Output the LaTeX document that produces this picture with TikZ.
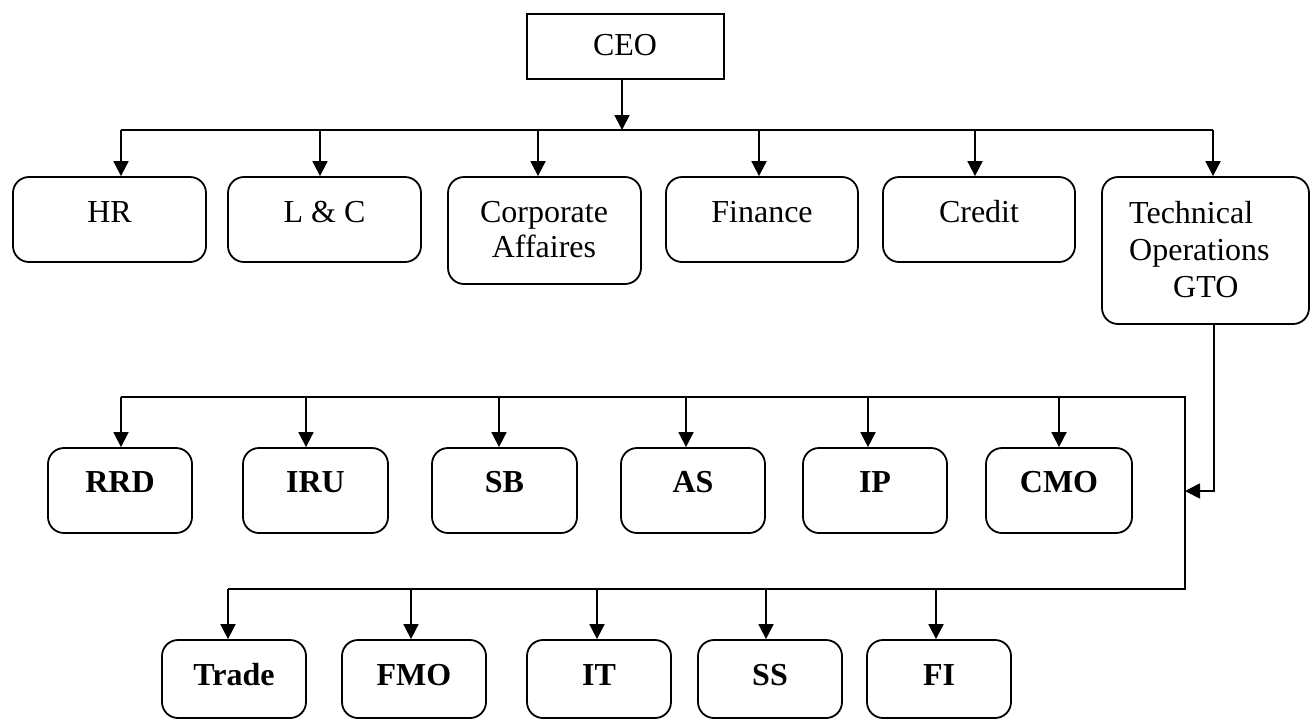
\documentclass[tikz,border=0pt]{standalone}
\usepackage{fontspec}
\setmainfont{Liberation Serif}
\usetikzlibrary{arrows.meta}
\tikzset{
  rbox/.style={draw, line width=1.8pt, rounded corners=16pt, inner sep=0pt},
  sbox/.style={draw, line width=1.8pt, inner sep=0pt},
  lbl/.style={inner sep=0pt, font=\fontsize{32}{38}\selectfont},
  blbl/.style={inner sep=0pt, font=\fontsize{32}{38}\selectfont\bfseries},
  wire/.style={line width=1.8pt},
  arr/.style={line width=1.8pt, -{Triangle[length=15pt,width=15pt]}}
}
\begin{document}
\begin{tikzpicture}[x=1pt,y=-1pt]
\useasboundingbox (0,0) rectangle (1311,721);
% CEO
\node[sbox, minimum width=197pt, minimum height=65pt] (ceo) at (625.5,46.5) {};
\node[lbl, anchor=base] (ceo-t) at (625,55) {CEO};
% Row 1
\node[rbox, minimum width=193pt, minimum height=85pt] (hr) at (109.5,219.5) {};
\node[rbox, minimum width=193pt, minimum height=85pt] (lc) at (324.5,219.5) {};
\node[rbox, minimum width=193pt, minimum height=107pt] (corp) at (544.5,230.5) {};
\node[rbox, minimum width=192pt, minimum height=85pt] (fin) at (762,219.5) {};
\node[rbox, minimum width=192pt, minimum height=85pt] (cred) at (979,219.5) {};
\node[rbox, minimum width=207pt, minimum height=147pt] (gto) at (1205.5,250.5) {};
\node[lbl, anchor=base] (hr-t) at (109.5,222) {HR};
\node[lbl, anchor=base] (lc-t) at (324.5,222) {L \& C};
\node[lbl, anchor=base] (corp-t1) at (544,222) {Corporate};
\node[lbl, anchor=base] (corp-t2) at (544,257) {Affaires};
\node[lbl, anchor=base] (fin-t) at (762,222) {Finance};
\node[lbl, anchor=base] (cred-t) at (979,222) {Credit};
\node[lbl, anchor=base west] (gto-t1) at (1129,223) {Technical};
\node[lbl, anchor=base west] (gto-t2) at (1129,260) {Operations};
\node[lbl, anchor=base west] (gto-t3) at (1173,297) {GTO};
% Row 2
\node[rbox, minimum width=144pt, minimum height=85pt] (rrd) at (120,490.5) {};
\node[rbox, minimum width=145pt, minimum height=85pt] (iru) at (315.5,490.5) {};
\node[rbox, minimum width=145pt, minimum height=85pt] (sb) at (504.5,490.5) {};
\node[rbox, minimum width=144pt, minimum height=85pt] (as) at (693,490.5) {};
\node[rbox, minimum width=144pt, minimum height=85pt] (ip) at (875,490.5) {};
\node[rbox, minimum width=146pt, minimum height=85pt] (cmo) at (1059,490.5) {};
\node[blbl, anchor=base] (rrd-t) at (120,492) {RRD};
\node[blbl, anchor=base] (iru-t) at (315.5,492) {IRU};
\node[blbl, anchor=base] (sb-t) at (504.5,492) {SB};
\node[blbl, anchor=base] (as-t) at (693,492) {AS};
\node[blbl, anchor=base] (ip-t) at (875,492) {IP};
\node[blbl, anchor=base] (cmo-t) at (1059,492) {CMO};
% Row 3
\node[rbox, minimum width=144pt, minimum height=78pt] (trade) at (234,679) {};
\node[rbox, minimum width=144pt, minimum height=78pt] (fmo) at (414,679) {};
\node[rbox, minimum width=144pt, minimum height=78pt] (it) at (599,679) {};
\node[rbox, minimum width=144pt, minimum height=78pt] (ss) at (770,679) {};
\node[rbox, minimum width=144pt, minimum height=78pt] (fi) at (939,679) {};
\node[blbl, anchor=base] (trade-t) at (234,685) {Trade};
\node[blbl, anchor=base] (fmo-t) at (414,685) {FMO};
\node[blbl, anchor=base] (it-t) at (599,685) {IT};
\node[blbl, anchor=base] (ss-t) at (770,685) {SS};
\node[blbl, anchor=base] (fi-t) at (939,685) {FI};
% bus 1
\coordinate (c0) at (622,130);
\coordinate (a1) at (121,130);
\coordinate (a2) at (320,130);
\coordinate (a3) at (538,130);
\coordinate (a4) at (759,130);
\coordinate (a5) at (975,130);
\coordinate (a6) at (1213,130);
\draw[arr] (c0 |- ceo.south) -- (c0);
\draw[wire] (a1) -- (a6);
\draw[arr] (a1) -- (a1 |- hr.north);
\draw[arr] (a2) -- (a2 |- lc.north);
\draw[arr] (a3) -- (a3 |- corp.north);
\draw[arr] (a4) -- (a4 |- fin.north);
\draw[arr] (a5) -- (a5 |- cred.north);
\draw[arr] (a6) -- (a6 |- gto.north);
% loop
\coordinate (lt) at (1185,397);
\coordinate (lb) at (1185,589);
\coordinate (b1) at (121,397);
\coordinate (b2) at (306,397);
\coordinate (b3) at (499,397);
\coordinate (b4) at (686,397);
\coordinate (b5) at (868,397);
\coordinate (b6) at (1059,397);
\coordinate (d1) at (228,589);
\coordinate (d2) at (411,589);
\coordinate (d3) at (597,589);
\coordinate (d4) at (766,589);
\coordinate (d5) at (936,589);
\coordinate (g0) at (1214,491);
\coordinate (g1) at (1185,491);
\draw[wire] (b1) -- (lt) -- (lb) -- (d1);
\draw[arr] (g0 |- gto.south) -- (g0) -- (g1);
\draw[arr] (b1) -- (b1 |- rrd.north);
\draw[arr] (b2) -- (b2 |- iru.north);
\draw[arr] (b3) -- (b3 |- sb.north);
\draw[arr] (b4) -- (b4 |- as.north);
\draw[arr] (b5) -- (b5 |- ip.north);
\draw[arr] (b6) -- (b6 |- cmo.north);
\draw[arr] (d1) -- (d1 |- trade.north);
\draw[arr] (d2) -- (d2 |- fmo.north);
\draw[arr] (d3) -- (d3 |- it.north);
\draw[arr] (d4) -- (d4 |- ss.north);
\draw[arr] (d5) -- (d5 |- fi.north);
\end{tikzpicture}
\end{document}
